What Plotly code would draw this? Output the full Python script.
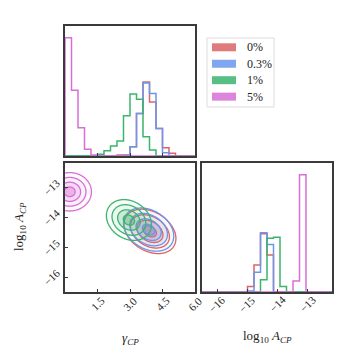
import numpy as np
import plotly.graph_objects as go

# series (chromatic noise fraction)
SERIES = ["0%", "0.3%", "1%", "5%"]
LINE_COLORS = ["#dc6464", "#6a96ec", "#3bb46e", "#d96fd6"]
FILL_RGB = [(220, 100, 100), (106, 150, 236), (59, 180, 110), (217, 111, 214)]

# 1D histogram of gamma_CP, 20 bins over [0, 6]
GAMMA_RANGE = [0.0, 6.0]
GAMMA_COUNTS = [
    [0, 0, 0, 0, 0, 0, 0, 0, 3, 3, 28, 128, 223, 163, 83, 25, 8, 0, 0, 0],
    [0, 0, 0, 0, 0, 0, 0, 0, 0, 2, 28, 128, 220, 188, 83, 10, 0, 0, 0, 0],
    [0, 0, 0, 0, 0, 5, 16, 30, 45, 121, 187, 171, 58, 18, 0, 0, 0, 0, 0, 0],
    [356, 198, 85, 20, 3, 0, 0, 0, 0, 0, 0, 0, 0, 0, 0, 0, 0, 0, 0, 0],
]

# 1D histogram of log10 A_CP, 20 bins over [-16.5, -12.2]
LOGA_RANGE = [-16.5, -12.2]
LOGA_COUNTS = [
    [0, 0, 0, 0, 0, 0, 0, 17, 82, 176, 112, 0, 0, 0, 0, 0, 0, 0, 0, 0],
    [0, 0, 0, 0, 0, 0, 0, 3, 60, 179, 144, 0, 0, 0, 0, 0, 0, 0, 0, 0],
    [0, 0, 0, 0, 0, 0, 0, 0, 0, 37, 163, 166, 17, 0, 0, 0, 0, 0, 0, 0],
    [0, 0, 0, 0, 0, 0, 0, 0, 0, 0, 0, 0, 0, 0, 33, 355, 0, 0, 0, 0],
]

# smoothed 2D posterior summary (mean, spread, correlation) per series
MEAN_GAMMA = [3.92, 3.86, 2.95, 0.22]
MEAN_LOGA = [-14.48, -14.42, -14.10, -13.16]
SD_GAMMA = [0.60, 0.58, 0.52, 0.50]
SD_LOGA = [0.37, 0.36, 0.34, 0.32]
RHO = [-0.32, -0.30, -0.22, 0.0]
SIGMA_LEVELS = [0.5, 1.0, 1.5, 2.0]

GAMMA_TICKS = [1.5, 3.0, 4.5, 6.0]
GAMMA_TICKTEXT = ["1.5", "3.0", "4.5", "6.0"]
LOGA_TICKS = [-16, -15, -14, -13]
LOGA_TICKTEXT = ["\u221216", "\u221215", "\u221214", "\u221213"]

FONT = "Liberation Serif, DejaVu Serif, serif"
FRAME = "#3a3a3a"
TXT = "#222222"

# the page body has an 8px margin, so the figure is 350px and offset by 8
OFF = 8.0
W = 350.0


def fx(px):
    return (px - OFF) / W


def fy(py):
    return 1 - (py - OFF) / W


def step_xy(edges, counts):
    x = [edges[0]] + list(edges)
    y = [0] + list(counts) + [0]
    return x, y


fig = go.Figure()

g_edges = np.linspace(GAMMA_RANGE[0], GAMMA_RANGE[1], len(GAMMA_COUNTS[0]) + 1)
a_edges = np.linspace(LOGA_RANGE[0], LOGA_RANGE[1], len(LOGA_COUNTS[0]) + 1)

# top-left: gamma histogram
for i, name in enumerate(SERIES):
    x, y = step_xy(g_edges, GAMMA_COUNTS[i])
    fig.add_trace(go.Scatter(x=x, y=y, mode="lines", line_shape="hv",
                             line=dict(color=LINE_COLORS[i], width=1.5),
                             showlegend=False, hoverinfo="skip",
                             xaxis="x", yaxis="y"))

# bottom-left: 2D contours at 0.5, 1, 1.5, 2 sigma
gg = np.linspace(GAMMA_RANGE[0], GAMMA_RANGE[1], 241)
aa = np.linspace(LOGA_RANGE[0], LOGA_RANGE[1], 241)
G, A = np.meshgrid(gg, aa)
for i, name in enumerate(SERIES):
    dx = (G - MEAN_GAMMA[i]) / SD_GAMMA[i]
    dy = (A - MEAN_LOGA[i]) / SD_LOGA[i]
    r = np.sqrt((dx ** 2 - 2 * RHO[i] * dx * dy + dy ** 2) / (1 - RHO[i] ** 2))
    cr, cg, cb = FILL_RGB[i]
    fig.add_trace(go.Contour(
        x=gg, y=aa, z=-r,
        contours=dict(start=-SIGMA_LEVELS[-1], end=-SIGMA_LEVELS[0],
                      size=SIGMA_LEVELS[1] - SIGMA_LEVELS[0],
                      coloring="fill", showlines=True),
        line=dict(color=LINE_COLORS[i], width=1.3),
        colorscale=[[0, f"rgba({cr},{cg},{cb},0)"],
                    [0.25, f"rgba({cr},{cg},{cb},0.03)"],
                    [0.5, f"rgba({cr},{cg},{cb},0.08)"],
                    [0.75, f"rgba({cr},{cg},{cb},0.18)"],
                    [1, f"rgba({cr},{cg},{cb},0.35)"]],
        zmin=-2.25, zmax=-0.25,
        showscale=False, hoverinfo="skip",
        xaxis="x2", yaxis="y2"))

# bottom-right: log10 A histogram
for i, name in enumerate(SERIES):
    x, y = step_xy(a_edges, LOGA_COUNTS[i])
    fig.add_trace(go.Scatter(x=x, y=y, mode="lines", line_shape="hv",
                             line=dict(color=LINE_COLORS[i], width=1.5),
                             showlegend=False, hoverinfo="skip",
                             xaxis="x3", yaxis="y3"))

xl = [fx(65), fx(195)]
xr = [fx(202), fx(332)]
yt = [fy(156), fy(26)]
yb = [fy(292), fy(163)]

frame = dict(showline=True, linecolor=FRAME, linewidth=1.5, mirror=True,
             showgrid=False, zeroline=False, automargin=False,
             ticks="inside", ticklen=3, tickcolor=FRAME,
             showticklabels=False)

gmax = max(max(c) for c in GAMMA_COUNTS) * 1.1
amax = max(max(c) for c in LOGA_COUNTS) * 1.1

annotations = []
shapes = []
tick_font = dict(family=FONT, size=11, color=TXT)
# rotated tick labels, centred under / beside each tick like matplotlib
for v, t in zip(GAMMA_TICKS, GAMMA_TICKTEXT):
    annotations.append(dict(text=t, x=v, xref="x2", y=fy(304), yref="paper",
                            textangle=-45, showarrow=False, font=tick_font,
                            xanchor="center", yanchor="middle"))
for v, t in zip(LOGA_TICKS, LOGA_TICKTEXT):
    annotations.append(dict(text=t, x=v, xref="x3", y=fy(304), yref="paper",
                            textangle=-45, showarrow=False, font=tick_font,
                            xanchor="center", yanchor="middle"))
    annotations.append(dict(text=t, x=fx(52), xref="paper", y=v, yref="y2",
                            textangle=-45, showarrow=False, font=tick_font,
                            xanchor="center", yanchor="middle"))

title_font = dict(family=FONT, size=13, color=TXT)
annotations += [
    dict(text="<i>γ</i><sub><i>CP</i></sub>", x=fx(130), y=fy(338),
         xref="paper", yref="paper", showarrow=False, font=title_font,
         xanchor="center", yanchor="middle"),
    dict(text="log<sub>10</sub> <i>A</i><sub><i>CP</i></sub>", x=fx(267),
         y=fy(336), xref="paper", yref="paper", showarrow=False,
         font=title_font, xanchor="center", yanchor="middle"),
    dict(text="log<sub>10</sub> <i>A</i><sub><i>CP</i></sub>", x=fx(20),
         y=fy(227), xref="paper", yref="paper", showarrow=False,
         textangle=-90, font=title_font, xanchor="center", yanchor="middle"),
]

# legend box with colour patches
shapes.append(dict(type="rect", xref="paper", yref="paper",
                   x0=fx(207), x1=fx(274), y0=fy(107), y1=fy(38),
                   line=dict(color="#dcdcdc", width=1), fillcolor="white"))
for i, name in enumerate(SERIES):
    yc = 47.3 + 16.45 * i
    cr, cg, cb = FILL_RGB[i]
    shapes.append(dict(type="rect", xref="paper", yref="paper",
                       x0=fx(212), x1=fx(236), y0=fy(yc + 4), y1=fy(yc - 4),
                       line=dict(width=0),
                       fillcolor=f"rgba({cr},{cg},{cb},0.85)"))
    annotations.append(dict(text=name, x=fx(245), y=fy(yc),
                            xref="paper", yref="paper", showarrow=False,
                            xanchor="left", yanchor="middle",
                            font=dict(family=FONT, size=12, color=TXT)))

fig.update_layout(
    width=350, height=350,
    margin=dict(l=0, r=0, t=0, b=0),
    paper_bgcolor="white", plot_bgcolor="white",
    template="none",
    font=dict(family=FONT, color=TXT),
    showlegend=False,
    xaxis=dict(frame, domain=xl, anchor="y", range=GAMMA_RANGE,
               tickvals=GAMMA_TICKS),
    yaxis=dict(frame, domain=yt, anchor="x", range=[0, gmax], ticks=""),
    xaxis2=dict(frame, domain=xl, anchor="y2", range=GAMMA_RANGE,
                tickvals=GAMMA_TICKS),
    yaxis2=dict(frame, domain=yb, anchor="x2", range=LOGA_RANGE,
                tickvals=LOGA_TICKS),
    xaxis3=dict(frame, domain=xr, anchor="y3", range=LOGA_RANGE,
                tickvals=LOGA_TICKS),
    yaxis3=dict(frame, domain=yb, anchor="x3", range=[0, amax], ticks=""),
    annotations=annotations,
    shapes=shapes,
)

fig.write_html("out.html")
